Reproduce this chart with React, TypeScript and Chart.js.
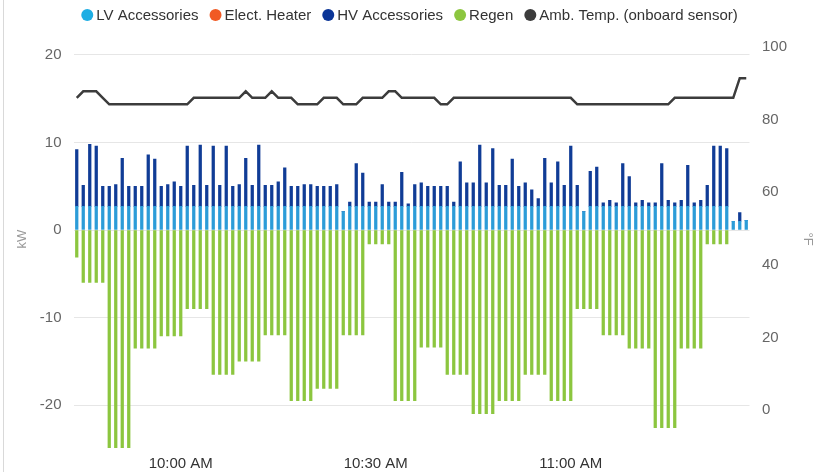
import React, { useEffect, useRef } from 'react';
import { Chart, registerables } from 'chart.js';

Chart.register(...registerables);

// ---- Data ----
const START_HOUR = 9;
const START_MIN = 44;
const BAR_COUNT = 104;
const categories: string[] = Array.from({ length: BAR_COUNT }, (_, i) => {
  const m = START_HOUR * 60 + START_MIN + i;
  return `${Math.floor(m / 60)}:${String(m % 60).padStart(2, '0')}`;
});

const X_TICK_CATS = ['10:00', '10:30', '11:00'];
const X_TICK_LABELS = ['10:00 AM', '10:30 AM', '11:00 AM'];
const LEFT_TICKS = [-20, -10, 0, 10, 20];
const RIGHT_TICKS = [0, 20, 40, 60, 80, 100];

const lvAccessories = [
  2.7, 2.7, 2.7, 2.7, 2.7, 2.7, 2.7, 2.7, 2.7, 2.7,
  2.7, 2.7, 2.7, 2.7, 2.7, 2.7, 2.7, 2.7, 2.7, 2.7,
  2.7, 2.7, 2.7, 2.7, 2.7, 2.7, 2.7, 2.7, 2.7, 2.7,
  2.7, 2.7, 2.7, 2.7, 2.7, 2.7, 2.7, 2.7, 2.7, 2.7,
  2.7, 2.1, 2.7, 2.7, 2.7, 2.7, 2.7, 2.7, 2.7, 2.7,
  2.7, 2.7, 2.7, 2.7, 2.7, 2.7, 2.7, 2.7, 2.7, 2.7,
  2.7, 2.7, 2.7, 2.7, 2.7, 2.7, 2.7, 2.7, 2.7, 2.7,
  2.7, 2.7, 2.7, 2.7, 2.7, 2.7, 2.7, 2.7, 2.1, 2.7,
  2.7, 2.7, 2.7, 2.7, 2.7, 2.7, 2.7, 2.7, 2.7, 2.7,
  2.7, 2.7, 2.7, 2.7, 2.7, 2.7, 2.7, 2.7, 2.7, 2.7,
  2.7, 1.0, 1.0, 1.1,
];

const electHeater: number[] = [];

const hvAccessories = [
  6.5, 2.4, 7.1, 6.9, 2.3, 2.3, 2.5, 5.5, 2.3, 2.3,
  2.3, 5.9, 5.4, 2.3, 2.5, 2.8, 2.3, 6.9, 2.4, 7.0,
  2.4, 6.9, 2.4, 6.9, 2.3, 2.5, 5.5, 2.4, 7.0, 2.4,
  2.4, 2.8, 4.4, 2.3, 2.3, 2.5, 2.5, 2.3, 2.3, 2.3,
  2.5, 0, 0.5, 4.9, 3.8, 0.5, 0.5, 2.5, 0.5, 0.5,
  3.9, 0.3, 2.5, 2.7, 2.3, 2.3, 2.3, 2.3, 0.5, 5.1,
  2.7, 2.7, 7.0, 2.7, 6.6, 2.4, 2.4, 5.4, 2.3, 2.7,
  1.9, 0.9, 5.5, 2.7, 5.1, 2.4, 6.9, 2.4, 0, 4.0,
  4.5, 0.4, 0.7, 0.4, 4.9, 3.4, 0.4, 0.7, 0.4, 0.4,
  4.9, 0.7, 0.4, 0.7, 4.7, 0.4, 0.7, 2.4, 6.9, 6.9,
  6.6, 0, 1.0, 0,
];

const regen = [
  -3.1, -6.0, -6.0, -6.0, -6.0, -25.0, -25.0, -25.0, -25.0, -13.5,
  -13.5, -13.5, -13.5, -12.1, -12.1, -12.1, -12.1, -9.0, -9.0, -9.0,
  -9.0, -16.5, -16.5, -16.5, -16.5, -15.0, -15.0, -15.0, -15.0, -12.0,
  -12.0, -12.0, -12.0, -19.5, -19.5, -19.5, -19.5, -18.1, -18.1, -18.1,
  -18.1, -12.0, -12.0, -12.0, -12.0, -1.6, -1.6, -1.6, -1.6, -19.5,
  -19.5, -19.5, -19.5, -13.4, -13.4, -13.4, -13.4, -16.5, -16.5, -16.5,
  -16.5, -21.0, -21.0, -21.0, -21.0, -19.5, -19.5, -19.5, -19.5, -16.5,
  -16.5, -16.5, -16.5, -19.5, -19.5, -19.5, -19.5, -9.0, -9.0, -9.0,
  -9.0, -12.0, -12.0, -12.0, -12.0, -13.5, -13.5, -13.5, -13.5, -22.6,
  -22.6, -22.6, -22.6, -13.5, -13.5, -13.5, -13.5, -1.6, -1.6, -1.6,
  -1.6, null, null, null,
];

const ambTemp = [
  86, 87.8, 87.8, 87.8, 86, 84.2, 84.2, 84.2, 84.2, 84.2,
  84.2, 84.2, 84.2, 84.2, 84.2, 84.2, 84.2, 84.2, 86, 86,
  86, 86, 86, 86, 86, 86, 87.8, 86, 86, 86,
  87.8, 86, 86, 86, 84.2, 84.2, 84.2, 84.2, 86, 86,
  86, 84.2, 84.2, 84.2, 86, 86, 86, 86, 87.8, 87.8,
  86, 86, 86, 86, 86, 86, 84.2, 84.2, 86, 86,
  86, 86, 86, 86, 86, 86, 86, 86, 86, 86,
  86, 86, 86, 86, 86, 86, 86, 84.2, 84.2, 84.2,
  84.2, 84.2, 84.2, 84.2, 84.2, 84.2, 84.2, 84.2, 84.2, 84.2,
  84.2, 84.2, 86, 86, 86, 86, 86, 86, 86, 86,
  86, 86, 91.4, 91.4,
];

const FONT = '"Liberation Sans", Arial, sans-serif';

const legendPlugin = {
  id: 'customLegend',
  afterDraw(chart: any) {
    const ctx = chart.ctx as CanvasRenderingContext2D;
    const items = chart.data.datasets.map((d: any) => ({
      label: d.label as string,
      color: (d.legendColor || d.backgroundColor || d.borderColor) as string,
    }));
    ctx.save();
    ctx.font = `15px ${FONT}`;
    const r = 6;
    const gapMT = 3;
    const gapItem = 11;
    const widths = items.map((it: any) => ctx.measureText(it.label).width);
    let total = 0;
    widths.forEach((w: number) => (total += 2 * r + gapMT + w));
    total += gapItem * (items.length - 1);
    let x = chart.width / 2 - total / 2;
    const y = 15;
    items.forEach((it: any, i: number) => {
      ctx.beginPath();
      ctx.fillStyle = it.color;
      ctx.arc(x + r, y, r, 0, Math.PI * 2);
      ctx.fill();
      x += 2 * r + gapMT;
      ctx.fillStyle = '#333333';
      ctx.textBaseline = 'middle';
      ctx.textAlign = 'left';
      ctx.fillText(it.label, x, y + 1);
      x += widths[i] + gapItem;
    });
    ctx.restore();
  },
};

export default function App() {
  const ref = useRef<HTMLCanvasElement | null>(null);

  useEffect(() => {
    if (!ref.current) return;
    const chart = new Chart(ref.current, {
      type: 'bar',
      data: {
        labels: categories,
        datasets: [
          {
            type: 'bar',
            label: 'LV Accessories',
            data: lvAccessories,
            backgroundColor: '#2c9cd8',
            legendColor: '#1eaee4',
            barThickness: 2.6,
            borderWidth: 0,
            yAxisID: 'y',
          } as any,
          {
            type: 'bar',
            label: 'Elect. Heater',
            data: electHeater,
            backgroundColor: '#f15a24',
            barThickness: 2.6,
            borderWidth: 0,
            yAxisID: 'y',
          } as any,
          {
            type: 'bar',
            label: 'HV Accessories',
            data: hvAccessories,
            backgroundColor: '#103c96',
            legendColor: '#0b3597',
            barThickness: 2.6,
            borderWidth: 0,
            yAxisID: 'y',
          } as any,
          {
            type: 'bar',
            label: 'Regen',
            data: regen,
            backgroundColor: '#8cc63f',
            barThickness: 2.6,
            borderWidth: 0,
            yAxisID: 'y',
          } as any,
          {
            type: 'line',
            label: 'Amb. Temp. (onboard sensor)',
            data: ambTemp,
            borderColor: '#3c3c3c',
            backgroundColor: '#3c3c3c',
            borderWidth: 2.5,
            pointRadius: 0,
            tension: 0,
            yAxisID: 'y1',
          } as any,
        ],
      },
      options: {
        responsive: false,
        animation: false,
        devicePixelRatio: 1,
        layout: { padding: { top: 30, left: 0, right: 0, bottom: 0 } },
        plugins: {
          legend: { display: false },
          tooltip: { enabled: false },
        },
        scales: {
          x: {
            stacked: true,
            offset: true,
            grid: { display: false, drawTicks: false },
            border: { display: false },
            afterFit: (s: any) => {
              s.height = 24;
            },
            ticks: {
              autoSkip: false,
              maxRotation: 0,
              minRotation: 0,
              padding: 7,
              color: '#333333',
              font: { size: 15, family: FONT },
              callback: (_v: any, idx: number) => {
                const j = X_TICK_CATS.indexOf(categories[idx]);
                return j >= 0 ? X_TICK_LABELS[j] : '';
              },
            },
          },
          y: {
            type: 'linear',
            position: 'left',
            stacked: true,
            min: -24.914,
            max: 22.857,
            afterFit: (s: any) => {
              s.width = 73.5;
            },
            afterBuildTicks: (s: any) => {
              s.ticks = LEFT_TICKS.map((v) => ({ value: v }));
            },
            grid: { color: '#e6e6e6', lineWidth: 1, drawTicks: false },
            border: { display: false },
            ticks: {
              padding: 12,
              color: '#666666',
              font: { size: 15, family: FONT },
            },
            title: {
              display: true,
              text: 'kW',
              color: '#999999',
              font: { size: 13, family: FONT },
              padding: { top: 15, bottom: 0 },
            },
          },
          y1: {
            type: 'linear',
            position: 'right',
            min: -10.468,
            max: 104.68,
            afterFit: (s: any) => {
              s.width = 69.5;
            },
            afterBuildTicks: (s: any) => {
              s.ticks = RIGHT_TICKS.map((v) => ({ value: v }));
            },
            grid: { display: false, drawTicks: false },
            border: { display: false },
            ticks: {
              padding: 12.5,
              color: '#666666',
              font: { size: 15, family: FONT },
            },
            title: {
              display: true,
              text: '°F',
              color: '#999999',
              font: { size: 13, family: FONT },
              padding: { top: 4, bottom: 0 },
            },
          },
        },
      } as any,
      plugins: [legendPlugin],
    });
    return () => chart.destroy();
  }, []);

  return (
    <div style={{ position: 'fixed', left: 0, top: 0, width: 819, height: 472, background: '#ffffff' }}>
      <div style={{ position: 'absolute', left: 3, top: 0, width: 1, height: 472, background: '#d9d9d9' }} />
      <canvas ref={ref} width={819} height={472} style={{ position: 'absolute', left: 0, top: 0 }} />
    </div>
  );
}
